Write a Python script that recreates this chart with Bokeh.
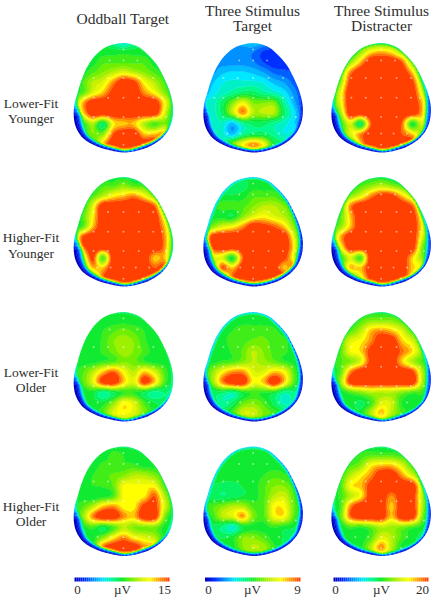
import numpy as np
from bokeh.plotting import figure
from bokeh.models import Range1d
from bokeh.core.properties import value
from bokeh.embed import file_html
from bokeh.resources import INLINE

# Field values on an 11 x 12 grid over each head,
# in tenths of the colour scale of the column.
lower_younger_oddball = [
    [5,5,5,5,4,3,4,5,5,5,5],
    [5,5,5,5,5,5,5,5,5,5,5],
    [5,5,5,5.5,5.5,5.5,5.5,5.5,5,5,5],
    [5,5,5.5,6,6.5,7,6.5,6,5.5,5,5],
    [5,5.5,6.5,7,8.5,10,9.5,7.5,6.5,5.5,5],
    [5,5.5,7,8,9.5,10,10,8.5,7.5,6,5],
    [5,8,10,10,10,10,10,10,10,7.5,5],
    [5,7.5,10,10,10,10,10,10,10,7,4.5],
    [5,5,6.5,4.5,7.5,8,8,6.5,5.5,6,4.5],
    [5,5,6,6,9,10,10,8,8,8,4],
    [5,5,5,8,10,10,10,10,10,6,5],
    [5,5,5,8,10,10,10,10,10,6,5],
]
lower_younger_target = [
    [3,3,3,2.5,2.5,3,2.5,2,2,2,2],
    [2,2,2,2,2,1.8,1.2,1,1.2,1.5,2],
    [2,2,2,2,2,1.8,1.2,0.8,0.9,1.2,1.5],
    [1.5,2,2.6,2.8,2.8,2.6,2.2,1.6,1.4,1.2,1],
    [1.5,2.6,3.2,3.4,3.4,3.4,3.2,2.6,2.2,1.5,1],
    [2,3,3.5,4,4.5,4.5,4,3.6,3,2,1],
    [4,3.5,4.5,6,7.3,6,6,6,4,2.4,1],
    [4,3.5,4.5,6.5,8.5,6.5,6.5,6.5,4.5,3,1.2],
    [4,3.5,3.6,2.6,4,4.5,4.5,4,3.5,2.8,2],
    [4,4,3.5,2.6,4,4.5,4.5,4,3.3,3.4,3],
    [4,4,4,6,7.5,8.5,7.5,5,4.5,3.5,3],
    [4,4,4,5,6,6,6,5,4,4,3],
]
lower_younger_distracter = [
    [5,5,5,5,5,5,5,5,5,5,5],
    [5,5,5,6,7.5,8,7.5,6,5,5,5],
    [5,5,6,8,10,10,10,9,6,5,5],
    [5,5.5,8.5,10,10,10,10,10,8,5,5],
    [5,6,9.5,10,10,10,10,10,9.5,6,4.5],
    [5,7,10,10,10,10,10,10,10,7,4.5],
    [5,7,10,10,10,10,10,10,10,8,4.5],
    [5,6,10,10,10,10,10,10,10,8,4.5],
    [5,5,7,4.5,9,10,10,9,5,7,4.5],
    [5,5,7,8.5,10,10,10,9,8,6,4.5],
    [5,5,5,8,10,10,10,10,10,6,4.5],
    [5,5,5,8,10,10,10,10,10,6,4.5],
]
higher_younger_oddball = [
    [5,5,5,5,5,5,5,5,5,5,5],
    [5,5,5,5.5,5.5,6,5.5,5.5,5,5,5],
    [5,5,5.5,6.5,7.5,8,8.5,7.5,6,5,5],
    [5,5,7,10,10,10,10,10,9,5.5,5],
    [5,5.5,7.5,10,10,10,10,10,10,7,5],
    [5,5.5,8,10,10,10,10,10,10,8,5],
    [5,9,10,10,10,10,10,10,10,8.5,5],
    [5,8.5,10,10,10,10,10,10,10,8.5,4.5],
    [5,6,9.5,5.5,10,10,10,10,8,8,4.5],
    [5,5,8,8,10,10,10,10,9,9,4.5],
    [5,5,5,9,10,10,10,10,10,7,5],
    [5,5,5,9,10,10,10,10,10,7,5],
]
higher_younger_target = [
    [5,5,5,5,5,5,5,5,5,5,5],
    [4.5,4.5,4.5,4.5,4.5,5,5,5,5,5,5],
    [5,5,4.8,4.8,5,5.5,5.5,5.5,5,5,5],
    [5,5,5.5,5.5,5.5,6,6.5,6.5,6,5.5,5],
    [5,5,5,4.8,6,7,7.5,7,6.5,5.5,5],
    [5,6,7,7.5,8.5,10,9.5,9,8,6,5],
    [5,9.5,10,10,10,10,10,10,10,7,4],
    [5,9,10,10,10,10,10,10,10,7.5,3.5],
    [5,7,7,5,9,10,10,10,9.5,7,3.5],
    [5,5,9,8,10,10,10,10,8,8.5,3.5],
    [5,5,5,9,10,10,10,10,10,6,3.5],
    [5,5,5,9,10,10,8,7,8,6,3.5],
]
higher_younger_distracter = [
    [5,5,5,5,5,5,5,5,5,5,5],
    [5,5,5,5.5,6,6.5,6,5.5,5,5,5],
    [5,5,6,7,8.5,9.5,9.5,8,6.5,5,5],
    [5,5,8.5,10,10,10,10,10,9,6,5],
    [5,5.5,8,10,10,10,10,10,10,7,5],
    [5,6,8,10,10,10,10,10,10,7.5,4.5],
    [5,8,10,10,10,10,10,10,10,7,4],
    [5,7,10,10,10,10,10,10,10,6,4],
    [5,5,7,5.5,10,10,10,10,8,6,4],
    [5,5,8,8,10,10,10,10,8,7,4],
    [5,5,5,7,9.5,10,10,9.5,7.5,5,4],
    [5,5,5,6,8,9,9,8,6,5,4],
]
lower_older_oddball = [
    [5,5,5,5,5,5,5,5,5,5,5],
    [5,5,5,5,5,5,5,5,5,5,5],
    [5,5,5,5.2,5.5,5.8,5.5,5.2,5,5,5],
    [5,5,5,5.3,6,6.3,6,5.3,5,5,5],
    [5,5,5,5.3,5.8,6.3,6,5.5,5,5,5],
    [5,5,5,5.3,5.5,6,5.8,5.3,5,5,4.8],
    [5,5.5,6.5,8,9,7.5,6.5,8,7,5.5,4.5],
    [5,5.5,7,9.5,10,8,7,9.5,8,5.5,4.5],
    [5,4.8,5,4,4.7,5.2,5.2,4.7,4,4.3,4],
    [5,5,5,5,6,7.5,7,5.5,4.8,4.5,4],
    [5,5,5,5.5,7,7.5,7,6,5,5,4.5],
    [5,5,5,5,6,6,6,5.5,5,5,4.5],
]
lower_older_target = [
    [5,5,5,5,5,5,5,5,5,5,5],
    [5,5,5,5,5,5,5,5,5,5,5],
    [5,5,5,5.2,5.5,5.5,5.5,5.3,5,5,5],
    [5,5,5,5.5,5.5,5.7,5.7,5.5,5.3,5,5],
    [5,5,5,5.3,5.7,6.5,6,5.5,5.3,5,4.8],
    [5,5,5.3,5.5,6,6.5,6.2,5.8,5.3,5,4.5],
    [5,6,7.5,8.5,8.5,7,7,8,7.5,5.5,4.3],
    [5,6,8.5,10,10,7.5,8,10,8,5.5,4],
    [5,4.5,4.5,4,5,5.3,5.2,5,4,4.2,4],
    [5,5,3.8,4.5,5.7,6,5.5,4.6,3.6,4,4],
    [5,5,5,5.5,6.8,6.8,6,5.5,5,5,4],
    [5,5,5,5,5.5,5.5,5.5,5,5,5,4],
]
lower_older_distracter = [
    [5,5,5,5,5,5,5,5,5,5,5],
    [5,5,5,5.5,6,6,6,5.5,5,5,5],
    [5,5,5.5,6.5,8,8.5,8,7,5.5,5,5],
    [5,5.5,7,7.5,8.5,10,10,8,7,5.5,5],
    [5,5.5,7.3,7.8,9.5,10,10,8.8,7.8,6,5],
    [5,5.5,6,7,9.5,10,10,8,6.5,5.5,5],
    [5,5.5,8.5,10,10,10,10,10,9.5,6.5,4.5],
    [5,6,9.5,10,10,10,10,10,10,6.5,4],
    [5,4.8,5.5,6,6.5,6.5,6.5,6,5.5,5.3,4],
    [5,5,5,4.6,5.3,7,6.8,5.2,5,5,4],
    [5,5,5,5,6.5,8,6.5,5.5,5,5,4],
    [5,5,5,5,5.5,6,5.5,5,5,5,4],
]
higher_older_oddball = [
    [5,5,5,5,5,5,5,5,5,5,5],
    [5,5,5,5,5.3,5.2,5,5,5,5,5],
    [5,5,5,5.3,5.3,5.3,5.3,5,5,5,5],
    [5,5,5.2,5.5,5.7,6,6.5,6.5,6,5.2,5],
    [5,5,5.2,5.3,5.7,7.4,7.4,7.4,7.4,5.5,5],
    [5,5,4.8,5,5.5,7.4,7.4,7.6,9,6.5,5],
    [5,5.5,6.5,8,8.5,7.5,7.5,9.5,9.5,7,5],
    [5,6,8.5,10,10,8.5,8,10,10,6,4.5],
    [5,5,5.5,4.8,5.5,6.5,6,6,6,5,4.5],
    [5,5,5,6,7.5,8.5,7.5,7,6.5,5,4.5],
    [5,5,5,9,10,10,10,8.5,8,5,4.5],
    [5,5,5,8,9,9,8.5,7,6,5,4.5],
]
higher_older_target = [
    [5,5,5,5,5,5,5,5,5,5,5],
    [5,5,5,5,5,5,5,5,5,5,5],
    [5,5,5,5,5,5,5,5,5,5,5],
    [5,5,5,5,5,5,5.2,5.5,5.3,5,5],
    [5,4.8,4.6,4.6,4.8,5,5.5,6,6,5.3,5],
    [4.8,4.5,4.3,4.5,4.8,5,5.5,6.5,6.8,5.5,5],
    [5,5.5,6,6.5,6.5,5.5,5.5,7.5,7.5,5.7,5],
    [5,5.2,6.5,7,8.3,6,5.5,7.3,7.5,5.5,4.5],
    [5,4.7,4.2,3.5,4.8,5,5,5.3,5,4.8,4],
    [5,5,4.7,5,6,6,5.5,5,4.7,4,3.5],
    [5,5,5,5,6,6.5,6.3,5.3,4.7,4,3.5],
    [5,5,5,5,5.5,5.5,5.5,5,5,4,3.5],
]
higher_older_distracter = [
    [5,5,5,5,5,5,5,5,5,5,5],
    [5,5,5,5.3,5.5,5.5,5.5,5.3,5,5,5],
    [5,5,5.5,6,7.5,8,8,7,5.5,5,5],
    [5,5.3,6.5,7.5,8.5,10,10,8.5,7,5.5,5],
    [5,5.3,7.5,8,9.5,10,10,10,10,6.5,5],
    [5,5.3,6.5,7.5,9.8,10,8.5,10,10,6.5,5],
    [5,5.3,8.5,10,10,10,8,10,10,6.5,4.5],
    [5,5.5,8.8,10,10,10,8,10,10,6,4],
    [5,4.8,5.5,5.3,5.8,6.5,6.3,6,5.5,5,4],
    [5,5,5,5,5.5,7,6.5,5.5,5,4.5,4],
    [5,5,5,5,6.5,8.5,6.5,5,4.8,4.5,4],
    [5,5,5,5,5.5,6,5.5,5,5,5,4],
]

grids = [
    [lower_younger_oddball, lower_younger_target, lower_younger_distracter],
    [higher_younger_oddball, higher_younger_target, higher_younger_distracter],
    [lower_older_oddball, lower_older_target, lower_older_distracter],
    [higher_older_oddball, higher_older_target, higher_older_distracter],
]

column_titles = [["Oddball Target"], ["Three Stimulus", "Target"], ["Three Stimulus", "Distracter"]]
row_labels = [["Lower-Fit", "Younger"], ["Higher-Fit", "Younger"], ["Lower-Fit", "Older"], ["Higher-Fit", "Older"]]
scale_labels = [["0", "µV", "15"], ["0", "µV", "9"], ["0", "µV", "20"]]

palette_stops = ["#0000c0", "#0030ff", "#0090ff", "#00e8ff", "#00fa90", "#10ea30",
                 "#70f000", "#c8f000", "#ffff00", "#ff9a00", "#ff4000"]

# Edge of each head, per outline point going from the crown down the left side,
# round the chin and up the right side: width of the falling rim in pixels
# and the value reached at the very edge, per column.
rim_width = [
    [3,3,3,3,3,3,5,11,11,8,6,5,4,5,4,3,3,3,3,3,3,3,3],
    [4,4,4,4,4,4,5,10,10,8,6,5,5,5,5,5,7,6,5,4,4,4,4],
    [3,3,3,3,3,3,5,11,11,8,6,5,4,5,4,4,7,7,5,4,3,3,3],
]
rim_floor = [
    [3.5,4.5,4.5,4.5,4.5,4.5,3,0,0,0,0,0,0.5,0,0,1,3,3.5,4,4.5,4.5,4.5,4],
    [2.5,2.5,2.5,2.5,2.5,2.5,2,0,0,0,0,0,0,0,0,0.5,0.5,0.5,1,1,1.5,2,2.5],
    [3.5,4.5,4.5,4.5,4.5,4.5,3,0,0,0,0,0,0.5,0,0,0.5,1,1,2,3.5,4.5,4.5,4],
]

# Layout, in pixels of the page
col_left = [73.3, 203, 331]
row_top = [42.5, 176.5, 311.5, 446]
head_w, head_h = 99.3, 109.5
title_x = [122.5, 252, 381]
title_y = {1: [18], 2: [10, 25]}
label_x = 30.5
label_y = [[103, 118], [237, 253], [372, 387], [506, 521]]
bar_x = [(74, 169), (204.5, 300), (333, 428)]
bar_y = (577, 581)
scale_text_x = [[77, 122, 164], [208, 252, 297], [335, 381, 422]]
scale_text_y = 589

# Head outline, as fractions of its box
outline_x = [.5,.34,.22,.134,.077,.04,.007,0,.027,.1,.235,.403,.53,.705,.84,.94,.99,1,.973,.92,.84,.74,.638]
outline_y = [0,.03,.11,.22,.34,.45,.555,.677,.78,.875,.945,.988,1,.966,.905,.814,.707,.585,.463,.34,.204,.1,.03]
# Electrode sites, as fractions of its box
site_x = [.5, .36,.5,.64, .2,.345,.5,.655,.8, .11,.2,.345,.5,.655,.8,.89, .2,.345,.5,.655,.8,.93, .24,.37,.5,.625,.76, .5,.7]
site_y = [.06, .16,.16,.16, .32,.32,.32,.32,.32, .5,.5,.5,.5,.5,.5,.5, .676,.676,.676,.676,.676,.676, .826,.826,.826,.826,.826, .93,.93]


def hex_rgb(h):
    return np.array([int(h[i:i+2], 16) for i in (1, 3, 5)], float)


def band_colors(n):
    pos = np.linspace(0, 1, len(palette_stops))
    rgb = np.array([hex_rgb(c) for c in palette_stops])
    t = np.linspace(0, 1, n)
    out = []
    for k in t:
        c = [np.interp(k, pos, rgb[:, d]) for d in range(3)]
        out.append("#%02x%02x%02x" % tuple(int(round(v)) for v in c))
    return out


def catmull(values, n, closed=False):
    """Catmull-Rom resampling along the first axis, n samples per interval."""
    v = np.asarray(values, float)
    m = v.shape[0]
    stop = m if closed else m - 1
    rows = []
    for i in range(stop):
        if closed:
            p0, p1, p2, p3 = v[(i-1) % m], v[i], v[(i+1) % m], v[(i+2) % m]
        else:
            p0, p1, p2, p3 = v[max(i-1, 0)], v[i], v[i+1], v[min(i+2, m-1)]
        for k in range(n):
            t = k / n
            rows.append(0.5 * (2*p1 + (p2-p0)*t + (2*p0-5*p1+4*p2-p3)*t*t + (3*p1-p0-3*p2+p3)*t*t*t))
    if not closed:
        rows.append(v[-1])
    return np.array(rows)


p = figure(width=435, height=601, x_range=Range1d(0, 435), y_range=Range1d(601, 0),
           output_backend="svg", toolbar_location=None, min_border=0,
           background_fill_color="white", border_fill_color="white", outline_line_color=None)
p.axis.visible = False
p.grid.visible = False

levels = np.concatenate([[-0.5], np.arange(0.25, 10, 0.5), [10.5]])
fills = band_colors(len(levels) - 1)
edges_col = [fills[0]] + fills
SERIF = value("Liberation Serif")
INK = "#2e2e2e"

ox, oy = np.array(outline_x), np.array(outline_y)
smooth = catmull(np.column_stack([ox, oy]), 4, closed=True)

for r, row in enumerate(grids):
    for c, grid in enumerate(row):
        fine = catmull(grid, 8)
        fine = catmull(fine.T, 8).T
        x0, y0 = col_left[c], row_top[r]
        xs = np.linspace(x0 - 2, x0 + head_w + 2, fine.shape[1])
        ys = np.linspace(y0 - 2, y0 + head_h + 2, fine.shape[0])
        fine = np.clip(fine + np.maximum(fine - 5, 0) * 0.2, 0, 10)
        # falling rim along the edge of the head
        hx_all = x0 + smooth[:, 0] * head_w
        hy_all = y0 + smooth[:, 1] * head_h
        w_all = catmull(np.array(rim_width[c], float), 4, closed=True)
        f_all = np.clip(catmull(np.array(rim_floor[c], float), 4, closed=True), 0, 10)
        gx, gy = np.meshgrid(xs, ys)
        dist = np.hypot(gx[..., None] - hx_all, gy[..., None] - hy_all)
        near = dist.argmin(axis=2)
        d = dist.min(axis=2)
        w = w_all[near]
        fl = f_all[near]
        limit = fl + (11 - fl) * (d / w) ** 2.5
        fine = np.where(d < w, np.minimum(fine, limit), fine)
        p.contour(xs, ys, fine, levels=levels, fill_color=fills, line_color=edges_col, line_width=0.7)
        hx = list(hx_all)
        hy = list(hy_all)
        ex = [x0 - 4, x0 + head_w + 4, x0 + head_w + 4, x0 - 4]
        ey = [y0 - 4, y0 - 4, y0 + head_h + 4, y0 + head_h + 4]
        p.multi_polygons(xs=[[[ex, hx]]], ys=[[[ey, hy]]], fill_color="white", line_color=None)
        p.scatter(x0 + np.array(site_x) * head_w, y0 + np.array(site_y) * head_h,
                  size=2, marker="circle", fill_color="white", fill_alpha=0.5, line_color=None)

for c, lines in enumerate(column_titles):
    ty = title_y[len(lines)]
    p.text([title_x[c]] * len(lines), ty, text=lines, text_font=SERIF, text_font_size="15.5px",
           text_color=INK, text_align="center", text_baseline="middle")

for r, lines in enumerate(row_labels):
    p.text([label_x] * 2, label_y[r], text=lines, text_font=SERIF, text_font_size="13.5px",
           text_color=INK, text_align="center", text_baseline="middle")

bar_colors = band_colors(48)
for c in range(3):
    edges = np.linspace(bar_x[c][0], bar_x[c][1], len(bar_colors) + 1)
    p.quad(left=edges[:-1], right=edges[1:], top=[bar_y[0]] * len(bar_colors),
           bottom=[bar_y[1]] * len(bar_colors), fill_color=bar_colors, line_color=None)
    p.text(scale_text_x[c], [scale_text_y] * 3, text=scale_labels[c], text_font=SERIF,
           text_font_size="13px", text_color=INK, text_align="center", text_baseline="middle")

open("out.html", "w").write(file_html(p, INLINE))
